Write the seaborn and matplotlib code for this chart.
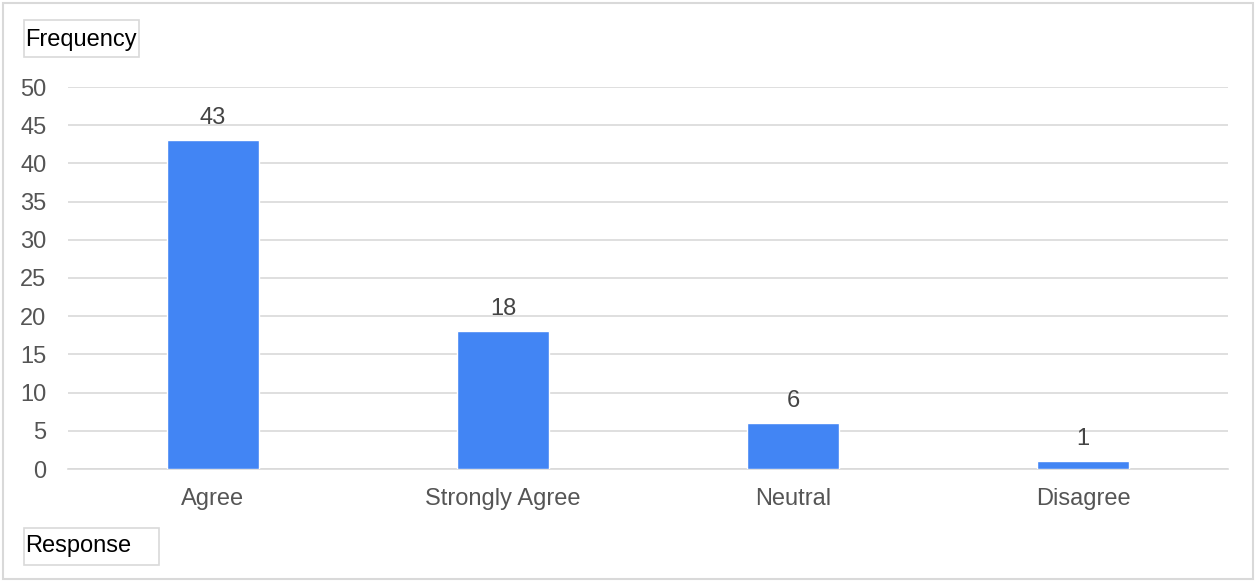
import matplotlib
matplotlib.use("Agg")
import matplotlib.pyplot as plt
import seaborn as sns
import pandas as pd
from matplotlib.patches import Rectangle

categories = ["Agree", "Strongly Agree", "Neutral", "Disagree"]
values = [43, 18, 6, 1]
yticks = [0, 5, 10, 15, 20, 25, 30, 35, 40, 45, 50]

sns.set_theme(style="white")
plt.rcParams['font.family'] = ['Liberation Sans', 'DejaVu Sans']

df = pd.DataFrame({"Response": categories, "Frequency": values})

W, H = 1256, 581
fig = plt.figure(figsize=(W/100, H/100), dpi=100)
ax = fig.add_axes([68/W, 1-469/H, 1160/W, (469-87)/H])

sns.barplot(data=df, x="Response", y="Frequency", color="#4285F4", saturation=1,
            width=0.315, ax=ax, zorder=3)

FS = 17
ax.set_ylim(0, 50)
ax.set_xlim(-0.5, 3.5)
ax.set_yticks(yticks)
ax.set_yticklabels([str(t) for t in yticks])
ax.yaxis.grid(True, color="#d9d9d9", linewidth=1.2, zorder=0)
ax.set_axisbelow(True)
for s in ax.spines.values():
    s.set_visible(False)
ax.spines['bottom'].set_visible(True)
ax.spines['bottom'].set_color("#d9d9d9")
ax.spines['bottom'].set_linewidth(1.2)
ax.tick_params(axis='both', length=0, labelsize=FS, colors="#555555")
ax.tick_params(axis='y', pad=15.5)
ax.tick_params(axis='x', pad=13.5)
ax.set_xlabel("")
ax.set_ylabel("")

for i, v in enumerate(values):
    ax.text(i, v + 1.5, str(v), ha="center", va="bottom", fontsize=FS, color="#444444")

# figure border
fig.patches.append(Rectangle((3/W, 2/H), 1250/W, 576/H, transform=fig.transFigure,
                             fill=False, edgecolor="#d9d9d9", linewidth=1.5))

# axis title boxes
fig.patches.append(Rectangle((24/W, 1-57/H), 115/W, 37/H, transform=fig.transFigure,
                             fill=False, edgecolor="#d9d9d9", linewidth=1.2))
fig.text(25/W, 1-40/H, "Frequency", ha="left", va="center", fontsize=FS, color="black")
fig.patches.append(Rectangle((24/W, 1-565/H), 135/W, 37/H, transform=fig.transFigure,
                             fill=False, edgecolor="#d9d9d9", linewidth=1.2))
fig.text(25/W, 1-546/H, "Response", ha="left", va="center", fontsize=FS, color="black")

fig.savefig("out.png", dpi=100)
